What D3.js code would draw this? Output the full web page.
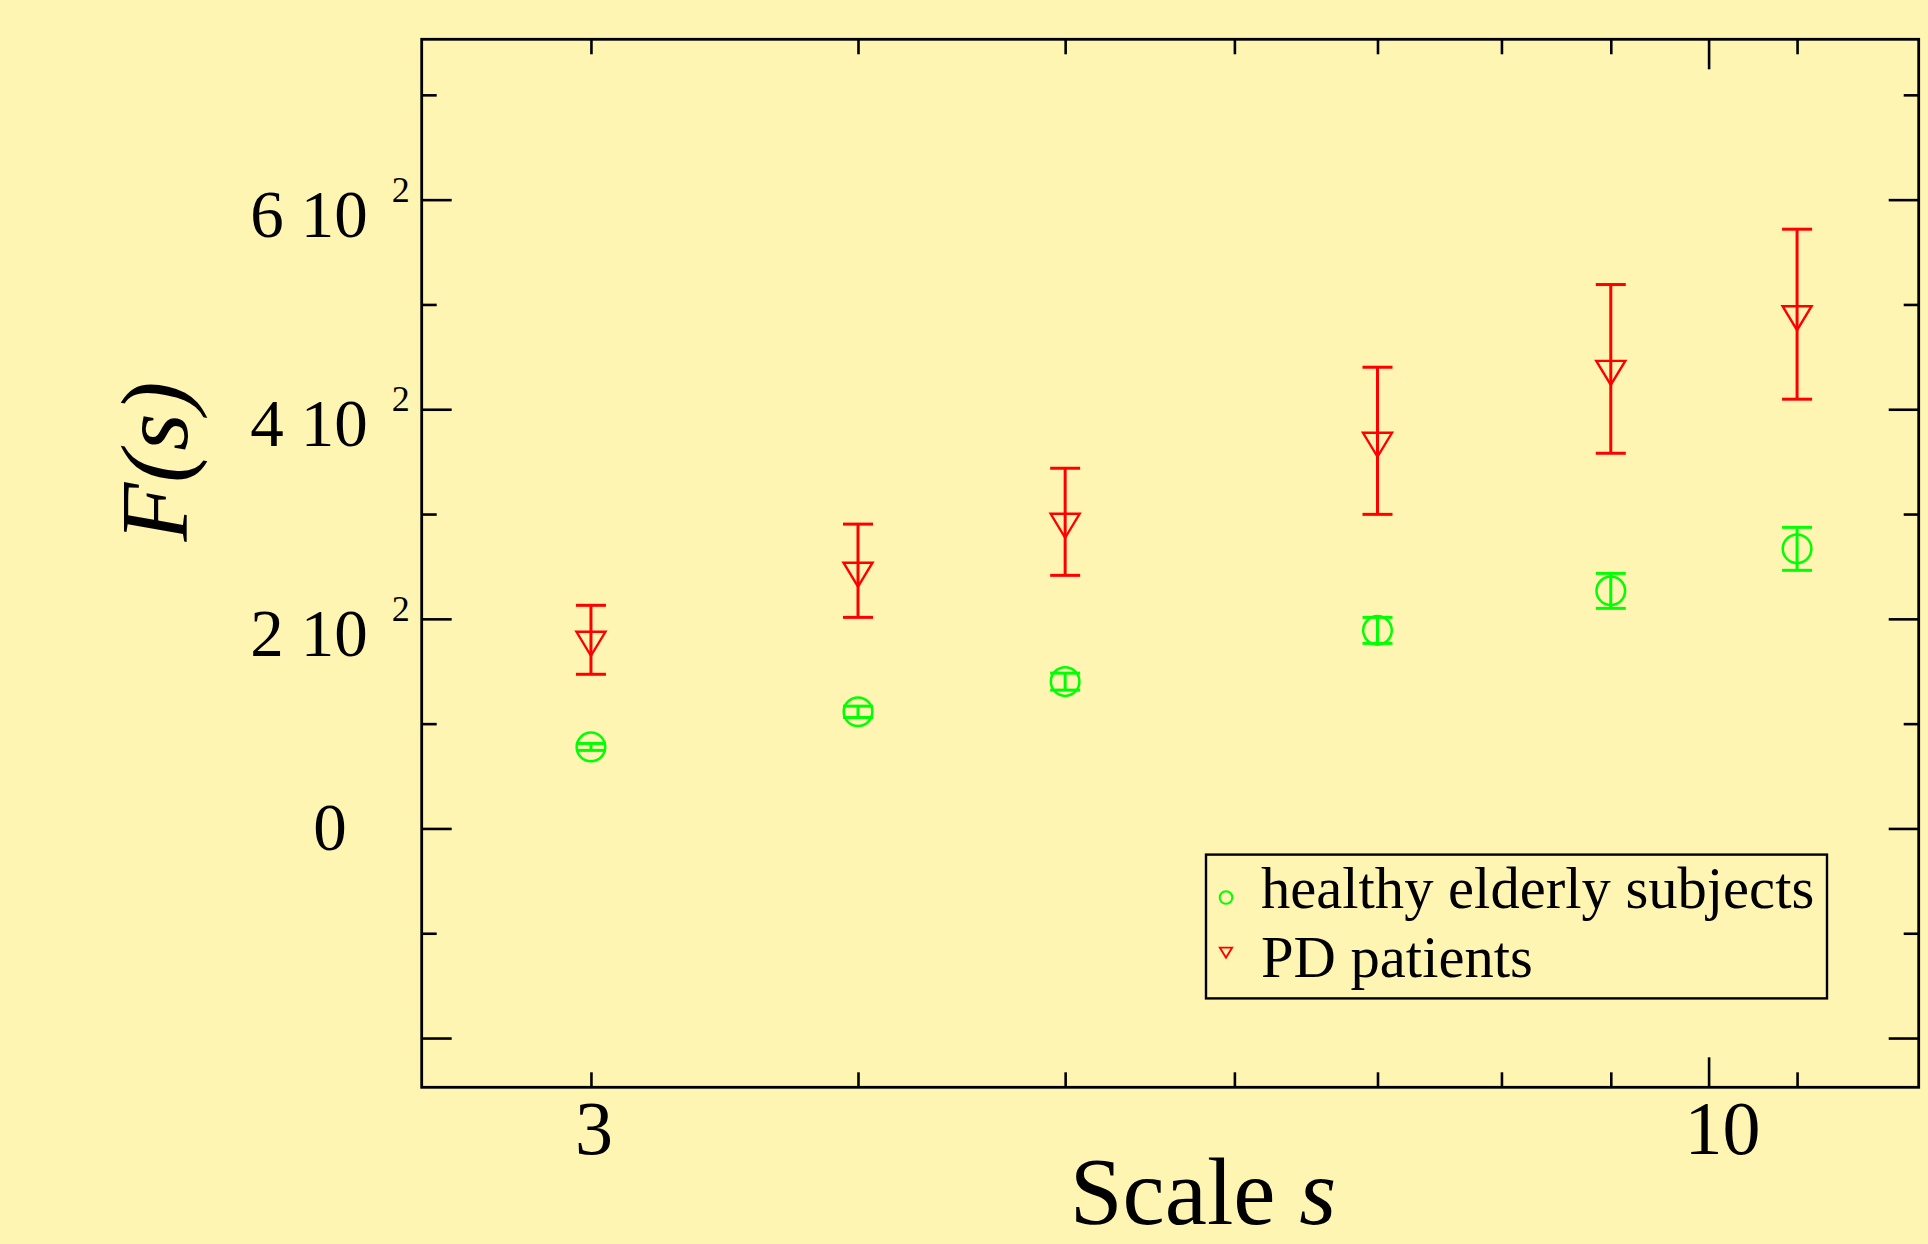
<!DOCTYPE html>
<html>
<head>
<meta charset="utf-8">
<script src="https://cdn.jsdelivr.net/npm/d3@7"></script>
<style>
  html, body { margin: 0; padding: 0; background: #fff5b2; }
  svg { display: block; }
  text { font-family: "Liberation Serif", "DejaVu Serif", serif; fill: #000; }
</style>
</head>
<body>
<svg id="chart" width="1928" height="1244"></svg>
<script>
// Scale values s and fluctuation function F(s) with error bars
const scales = [3, 4, 5, 7, 9, 11];
const healthyF = [77.8, 111.3, 140.1, 189.0, 226.7, 266.8];
const healthyErr = [3.3, 5.4, 8.1, 12.4, 16.7, 20.5];
const pdF = [180.0, 245.9, 292.6, 369.9, 438.5, 490.7];
const pdErr = [32.9, 44.5, 51.1, 70.2, 80.5, 81.1];

// Axis ticks and labels
const xMajorTicks = [10];
const xMinorTicks = [3, 4, 5, 6, 7, 8, 9, 11];
const xLabelValues = [3, 10];
const xLabelTexts = ["3", "10"];
const yMajorTicks = [-200, 0, 200, 400, 600];
const yMinorTicks = [-100, 100, 300, 500, 700];
const yLabelValues = [0, 200, 400, 600];
const yLabelMantissa = ["0", "2", "4", "6"];
const yLabelExponent = ["", "2", "2", "2"];

const seriesNames = ["healthy elderly subjects", "PD patients"];

const L = 421.7, R = 1918.7, T = 39.3, B = 1087.3;

const svg = d3.select("#chart");

const x = d3.scaleLog().domain([2.5, 12.54]).range([L, R]);
const y = d3.scaleLinear().domain([-247, 753]).range([B, T]);

const GREEN = "#00ff00", RED = "#ff0000";

// inward ticks on all four sides
function tickAxis(gen, transform, values, size) {
  const g = svg.append("g").attr("transform", transform)
    .call(gen.tickValues(values).tickSizeInner(-size).tickSizeOuter(0).tickFormat(""));
  g.select(".domain").remove();
  g.selectAll(".tick line").attr("stroke", "#000").attr("stroke-width", 2.6);
  return g;
}
tickAxis(d3.axisBottom(x), `translate(0,${B})`, xMajorTicks, 30);
tickAxis(d3.axisBottom(x), `translate(0,${B})`, xMinorTicks, 15);
tickAxis(d3.axisTop(x), `translate(0,${T})`, xMajorTicks, 30);
tickAxis(d3.axisTop(x), `translate(0,${T})`, xMinorTicks, 15);
tickAxis(d3.axisLeft(y), `translate(${L},0)`, yMajorTicks, 30);
tickAxis(d3.axisLeft(y), `translate(${L},0)`, yMinorTicks, 15);
tickAxis(d3.axisRight(y), `translate(${R},0)`, yMajorTicks, 30);
tickAxis(d3.axisRight(y), `translate(${R},0)`, yMinorTicks, 15);

// frame
svg.append("rect")
  .attr("x", L).attr("y", T).attr("width", R - L).attr("height", B - T)
  .attr("fill", "none").attr("stroke", "#000").attr("stroke-width", 2.8);

// x tick labels
const xNudge = { "3": 3, "10": 14 };
xLabelValues.forEach((v, i) => {
  svg.append("text")
    .attr("x", x(v) + xNudge[xLabelTexts[i]])
    .attr("y", 1154)
    .attr("text-anchor", "middle")
    .attr("font-size", 76)
    .text(xLabelTexts[i]);
});

// y tick labels, written as "m 10 ^e"
yLabelValues.forEach((v, i) => {
  const t = svg.append("text")
    .attr("x", 330)
    .attr("text-anchor", "middle")
    .attr("font-size", 67);
  if (yLabelExponent[i] === "") {
    t.attr("y", y(v) + 22).text(yLabelMantissa[i]);
  } else {
    t.attr("y", y(v) + 37);
    t.append("tspan").text(yLabelMantissa[i]);
    t.append("tspan").attr("dx", 17).text("10");
    t.append("tspan").attr("dx", 24).attr("dy", -35).attr("font-size", 36).text(yLabelExponent[i]);
  }
});

// axis titles
const xt = svg.append("text")
  .attr("x", 1203).attr("y", 1224)
  .attr("text-anchor", "middle")
  .attr("font-size", 95);
xt.append("tspan").text("Scale ");
xt.append("tspan").attr("font-style", "italic").text("s");

svg.append("text")
  .attr("transform", "translate(187,461.5) rotate(-90)")
  .attr("text-anchor", "middle")
  .attr("font-size", 96)
  .attr("font-style", "italic")
  .text("F(s)");

// error bars
function errorBars(vals, errs, color) {
  const g = svg.append("g").attr("stroke", color).attr("stroke-width", 3).attr("fill", "none");
  scales.forEach((s, i) => {
    const cx = x(s), y0 = y(vals[i] - errs[i]), y1 = y(vals[i] + errs[i]);
    g.append("line").attr("x1", cx).attr("x2", cx).attr("y1", y0).attr("y2", y1);
    g.append("line").attr("x1", cx - 15).attr("x2", cx + 15).attr("y1", y0).attr("y2", y0);
    g.append("line").attr("x1", cx - 15).attr("x2", cx + 15).attr("y1", y1).attr("y2", y1);
  });
}

const trianglePath = "M-14.5,-8L14.5,-8L0,16Z";

errorBars(healthyF, healthyErr, GREEN);
errorBars(pdF, pdErr, RED);

svg.append("g").selectAll("circle")
  .data(scales)
  .join("circle")
  .attr("cx", d => x(d))
  .attr("cy", (d, i) => y(healthyF[i]))
  .attr("r", 14.3)
  .attr("fill", "none").attr("stroke", GREEN).attr("stroke-width", 2.5);

svg.append("g").selectAll("path")
  .data(scales)
  .join("path")
  .attr("d", trianglePath)
  .attr("transform", (d, i) => `translate(${x(d)},${y(pdF[i])})`)
  .attr("fill", "none").attr("stroke", RED).attr("stroke-width", 2.4)
  .attr("stroke-linejoin", "miter");

// legend
const lg = svg.append("g");
lg.append("rect")
  .attr("x", 1206).attr("y", 854.6).attr("width", 621).attr("height", 143.8)
  .attr("fill", "none").attr("stroke", "#000").attr("stroke-width", 2.4);
lg.append("circle")
  .attr("cx", 1226).attr("cy", 897.5).attr("r", 6.3)
  .attr("fill", "none").attr("stroke", GREEN).attr("stroke-width", 2);
lg.append("path")
  .attr("d", trianglePath)
  .attr("transform", "translate(1226,951) scale(0.42)")
  .attr("fill", "none").attr("stroke", RED).attr("stroke-width", 4.6);
lg.append("text").attr("x", 1261).attr("y", 907.7).attr("font-size", 58.6).text(seriesNames[0]);
lg.append("text").attr("x", 1261).attr("y", 977).attr("font-size", 58.6).text(seriesNames[1]);
</script>
</body>
</html>
